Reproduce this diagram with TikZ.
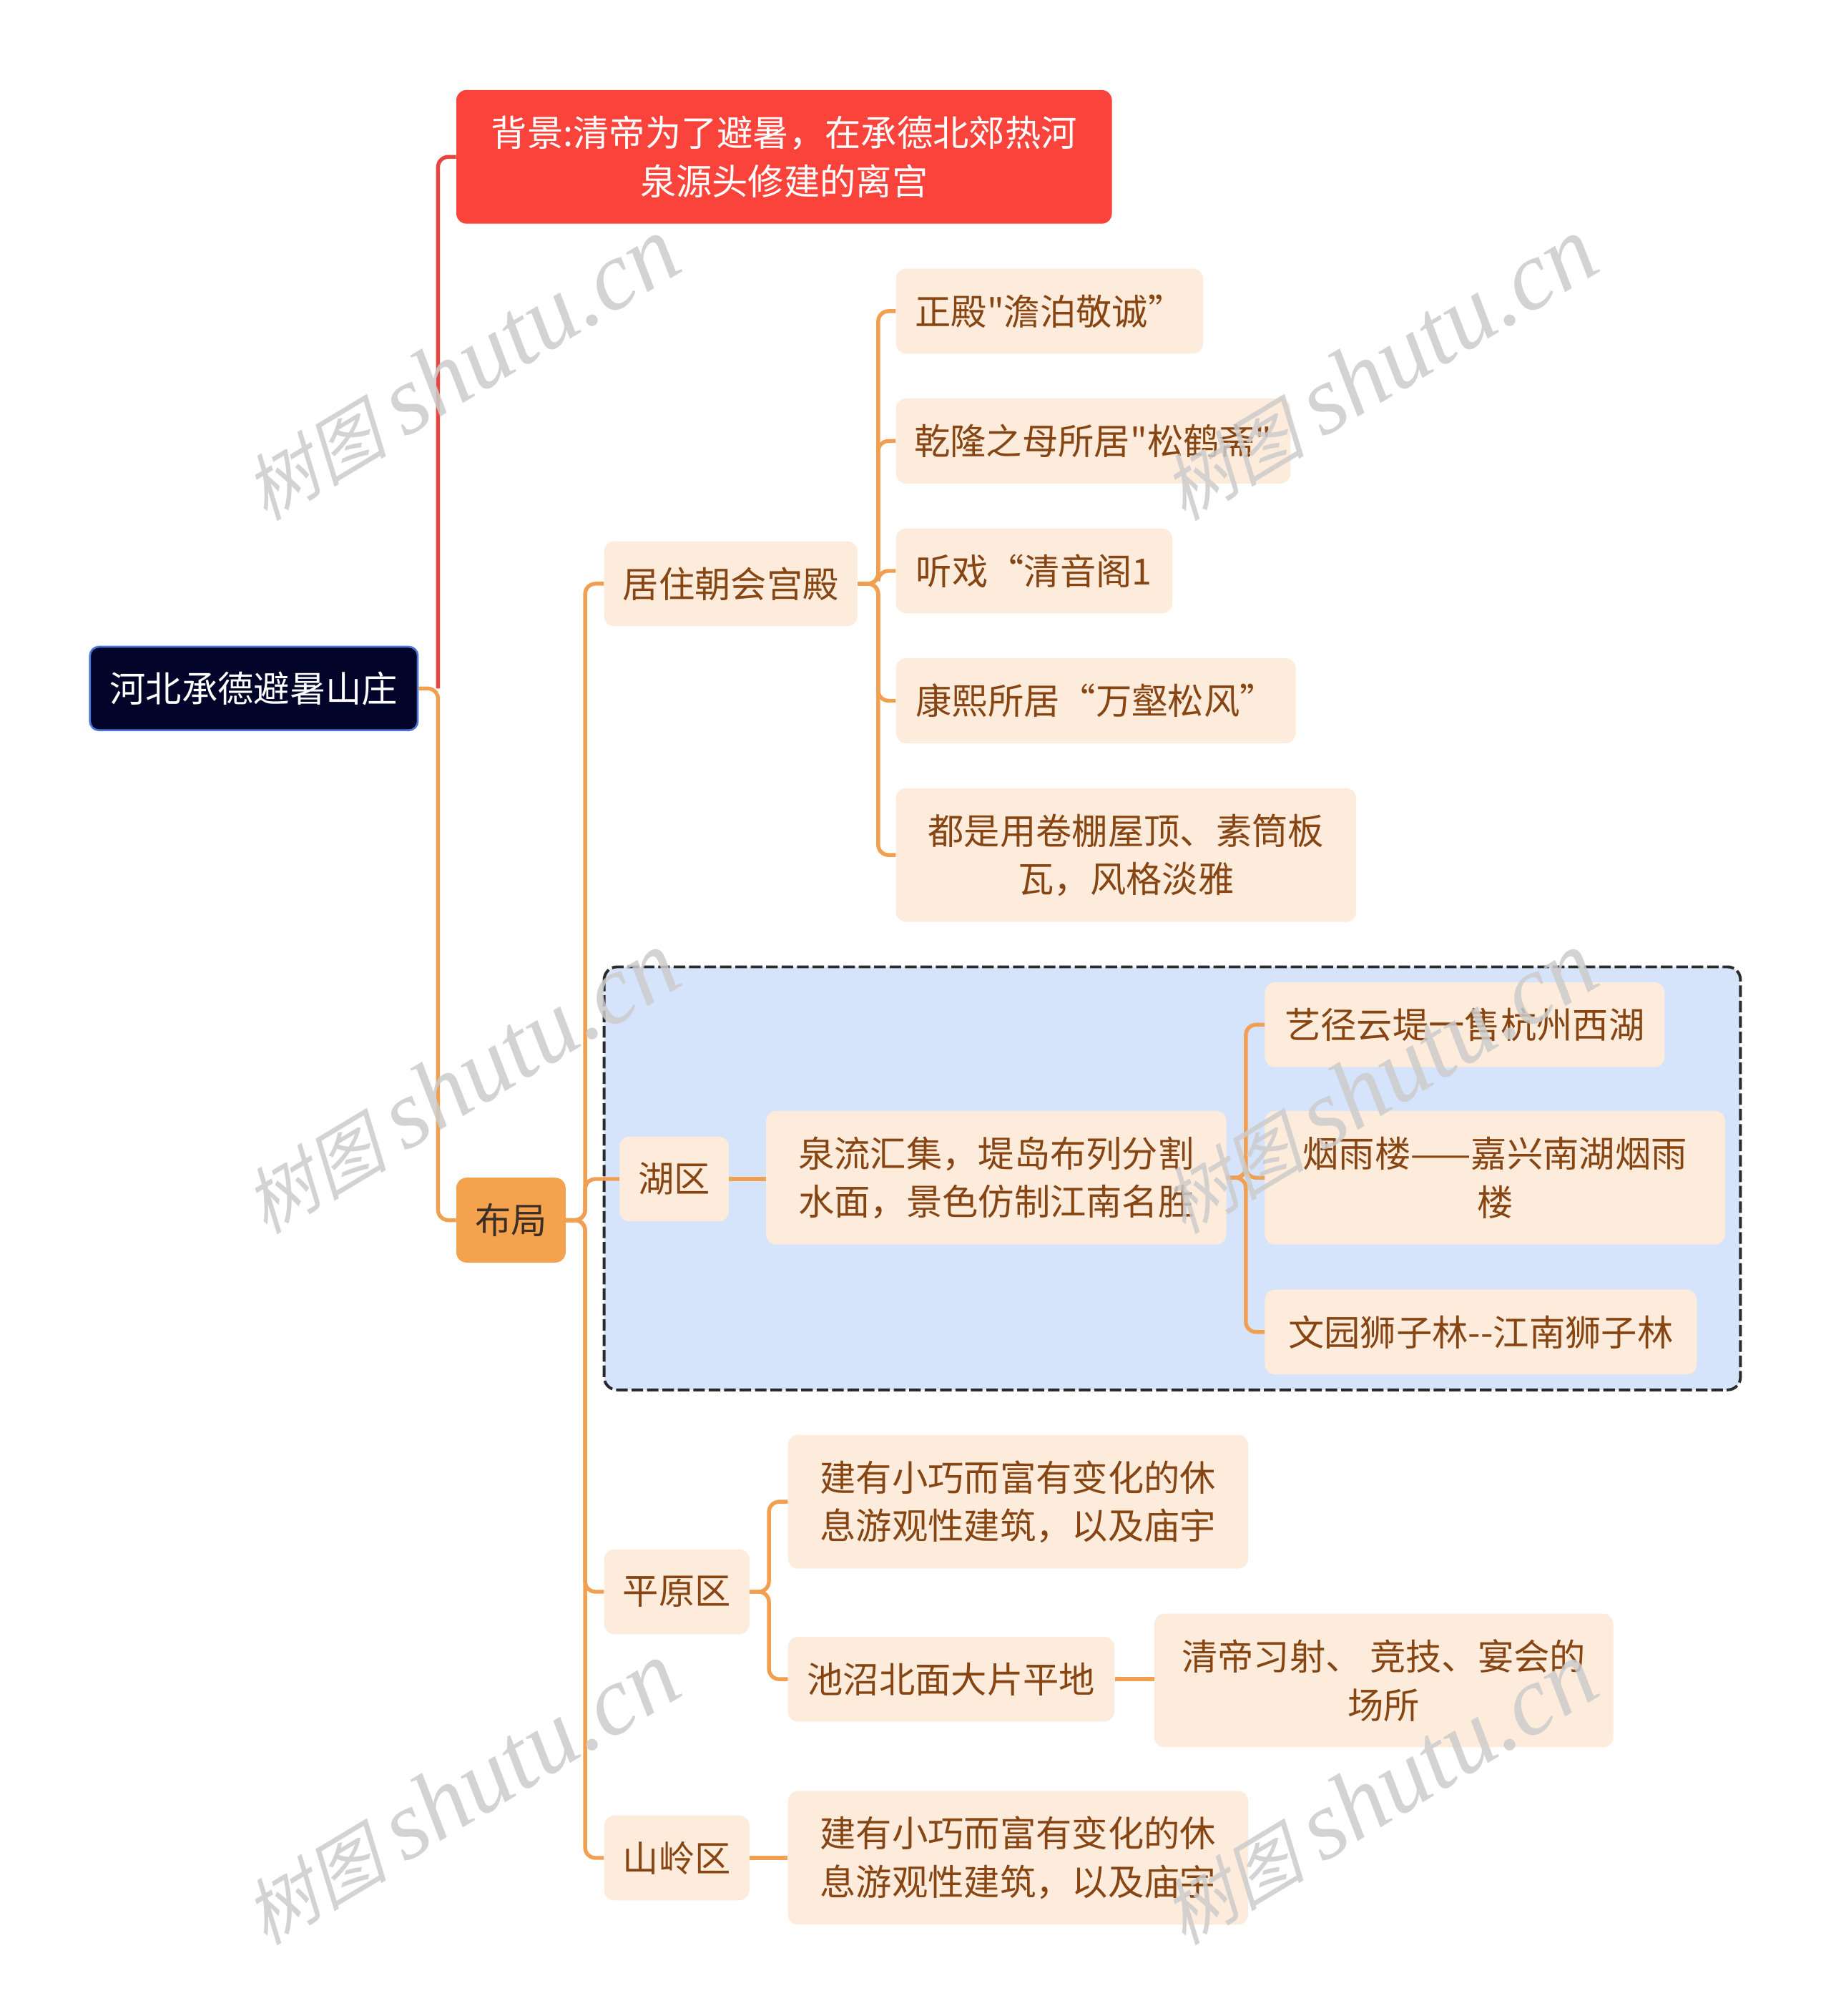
\documentclass[tikz,border=0pt]{standalone}
\usepackage{fontspec}
\newfontfamily\cjk{Noto Sans CJK SC}
\newfontfamily\wmcjk{Noto Sans CJK SC}[FakeSlant=0.25]
\newfontfamily\wmlat{Liberation Serif}
\definecolor{rootfill}{HTML}{03042A}
\definecolor{rootdraw}{HTML}{4A74D6}
\definecolor{bgred}{HTML}{F9433B}
\definecolor{redline}{HTML}{E8463F}
\definecolor{orline}{HTML}{F1A052}
\definecolor{bjfill}{HTML}{F5A24F}
\definecolor{bjtext}{HTML}{3A2E25}
\definecolor{peach}{HTML}{FDEBDB}
\definecolor{brownt}{HTML}{864512}
\definecolor{lake}{HTML}{D5E4FB}
\definecolor{dashc}{HTML}{2A2A2A}
\definecolor{wmgray}{HTML}{CCCCCC}
\tikzset{
  txt/.style={font=\cjk\fontsize{28pt}{37.5pt}\selectfont},
  box/.style={txt, rounded corners=8pt, inner sep=0pt, align=center, fill=peach, text=brownt},
  conn/.style={draw=orline, line width=3pt, rounded corners=8pt},
  wm/.style={text=wmgray, opacity=0.85, rotate=31, inner sep=0pt},
}
\begin{document}
\begin{tikzpicture}[x=1pt,y=-1pt]
\useasboundingbox[fill=white] (0,0) rectangle (1424,1568);
% lake group background
\draw[fill=lake, draw=dashc, line width=2.2pt, dash pattern=on 9pt off 3pt, rounded corners=10pt] (470,752) rectangle (1354,1081);
% nodes
\node[txt, rounded corners=7pt, inner sep=0pt, fill=rootfill, draw=rootdraw, line width=1.5pt, text=white, minimum width=255pt, minimum height=65pt] (root) at (197.5,535.5) {河北承德避暑山庄};
\node[txt, rounded corners=8pt, inner sep=0pt, fill=bgred, text=white, align=center, minimum width=510pt, minimum height=104pt] (bg) at (610,122) {背景:清帝为了避暑，在承德北郊热河\\泉源头修建的离宫};
\node[txt, rounded corners=8pt, inner sep=0pt, fill=bjfill, text=bjtext, minimum width=85pt, minimum height=66pt] (bj) at (397.5,949) {布局};
\node[box, minimum width=197pt, minimum height=66pt] (jz) at (568.5,454) {居住朝会宫殿};
\node[box, minimum width=239pt, minimum height=66pt] (a1) at (816.5,242) {正殿"澹泊敬诚”};
\node[box, minimum width=307pt, minimum height=66pt] (a2) at (850.5,343) {乾隆之母所居"松鹤斋"};
\node[box, minimum width=215pt, minimum height=66pt] (a3) at (804.5,444) {听戏“清音阁1};
\node[box, minimum width=311pt, minimum height=66pt] (a4) at (852.5,545) {康熙所居“万壑松风”};
\node[box, minimum width=358pt, minimum height=104pt] (a5) at (876,665) {都是用卷棚屋顶、素筒板\\瓦，风格淡雅};
\node[box, minimum width=85pt, minimum height=66pt] (hq) at (524.5,917) {湖区};
\node[box, minimum width=358pt, minimum height=104pt] (ql) at (775,916) {泉流汇集，堤岛布列分割\\水面，景色仿制江南名胜};
\node[box, minimum width=311pt, minimum height=66pt] (b1) at (1139.5,797) {艺径云堤一售杭州西湖};
\node[box, minimum width=358pt, minimum height=104pt] (b2) at (1163,916) {烟雨楼——嘉兴南湖烟雨\\楼};
\node[box, minimum width=336pt, minimum height=66pt] (b3) at (1152,1036) {文园狮子林-\kern0pt-江南狮子林};
\node[box, minimum width=113pt, minimum height=66pt] (py) at (526.5,1238) {平原区};
\node[box, minimum width=358pt, minimum height=104pt] (c1) at (792,1168) {建有小巧而富有变化的休\\息游观性建筑，以及庙宇};
\node[box, minimum width=254pt, minimum height=66pt] (c2) at (740,1306) {池沼北面大片平地};
\node[box, minimum width=357pt, minimum height=104pt] (c3) at (1076.5,1307) {清帝习射、 竞技、宴会的\\场所};
\node[box, minimum width=113pt, minimum height=66pt] (sl) at (526.5,1445) {山岭区};
\node[box, minimum width=358pt, minimum height=104pt] (d1) at (792,1445) {建有小巧而富有变化的休\\息游观性建筑，以及庙宇};
% connectors
\draw[conn, draw=redline] (root.east) ++(15,0) |- (bg.west);
\draw[conn] (root.east) -- ++(15,0) |- (bj.west);
\foreach \c in {jz,hq,py,sl} \draw[conn] (bj.east) -- ++(15,0) |- (\c.west);
\foreach \c in {a1,a2,a3,a4,a5} \draw[conn] (jz.east) -- ++(16,0) |- (\c.west);
\draw[conn] (hq.east) -- (hq.east -| ql.west);
\foreach \c in {b1,b2,b3} \draw[conn] (ql.east) -- ++(15,0) |- (\c.west);
\foreach \c in {c1,c2} \draw[conn] (py.east) -- ++(15,0) |- (\c.west);
\draw[conn] (c2.east) -- (c2.east -| c3.west);
\draw[conn] (sl.east) -- (sl.east -| d1.west);
% watermarks
\foreach \n/\x/\y in {w1/358/287, w2/358/842, w3/358/1395, w4/1072/287, w5/1072/842, w6/1072/1395}
  \node[wm] (\n) at (\x,\y) {{\wmcjk\fontsize{56pt}{56pt}\selectfont 树图}\hspace{14pt}{\wmlat\itshape\fontsize{76pt}{76pt}\selectfont shutu.cn}};
\end{tikzpicture}
\end{document}
